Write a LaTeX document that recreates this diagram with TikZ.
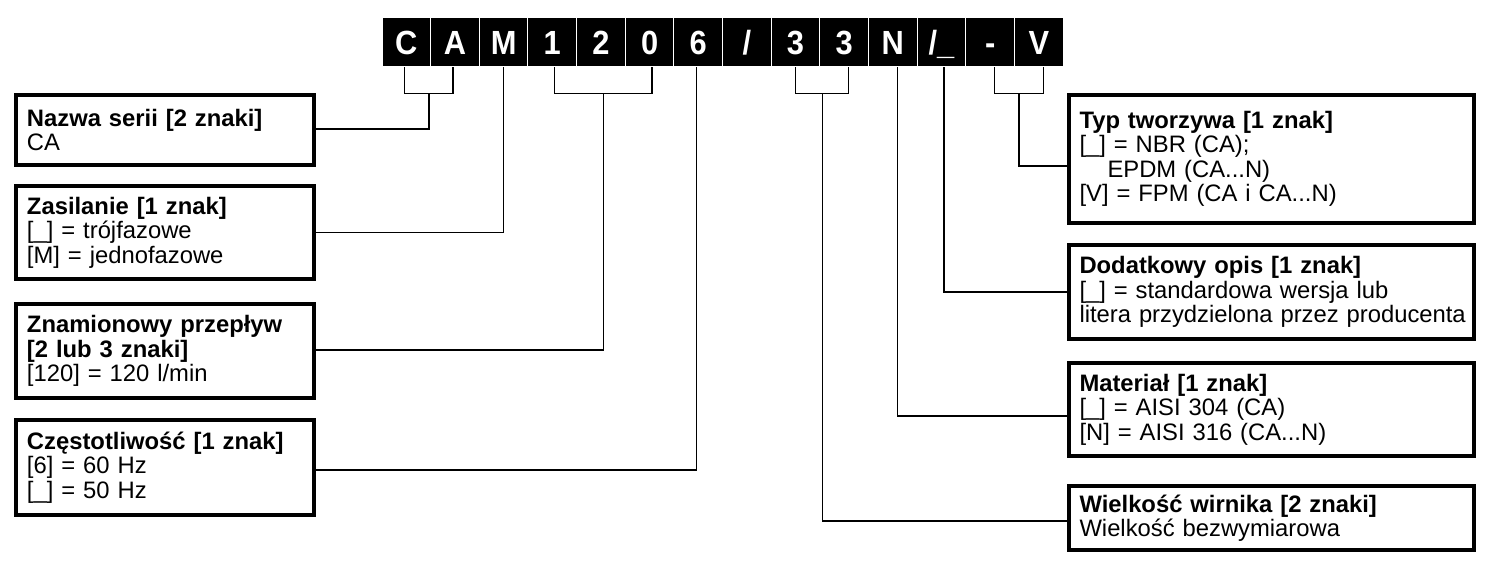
\documentclass[tikz,border=0pt]{standalone}
\usepackage{fontspec}
\setmainfont{Liberation Sans}
\newfontfamily\codefont[FakeStretch=0.92]{Liberation Sans}
\usetikzlibrary{calc,positioning}
\tikzset{
  cell/.style={fill=black, draw=white, line width=1pt, minimum width=48.65pt,
               minimum height=49pt, inner sep=0pt, text=white,
               text height=24pt, text depth=0pt,
               font=\codefont\fontsize{33.5}{33.5}\selectfont\bfseries},
  infobox/.style={draw=black, line width=4pt, align=left, inner xsep=11pt,
                  inner ysep=0pt, font=\fontsize{23.8}{24.5}\selectfont},
  leftbox/.style={infobox, text width=276pt},
  rightbox/.style={infobox, inner xsep=10.5pt, text width=384pt},
  lead/.style={draw=black, line width=1.2pt}
}

\begin{document}
\begin{tikzpicture}[x=1pt,y=-1pt]
\useasboundingbox (0,0) rectangle (1493,580);

% Type code strip.
\foreach \ch [count=\i] in {C,A,M,1,2,0,6,/,3,3,N,/\_,-,V}
  \node[cell] (c\i) at ({382+48.65*(\i-0.5)},42.5) {\ch};

% Tap points under the characters.
\coordinate (tC)  at ([xshift=-1.5pt]c1.south);
\coordinate (tA)  at ([xshift=-2pt]c2.south);
\coordinate (tM)  at (c3.south);
\coordinate (t1)  at ([xshift=2.5pt]c4.south);
\coordinate (t0)  at ([xshift=2.5pt]c6.south);
\coordinate (t6)  at ([xshift=-1.5pt]c7.south);
\coordinate (t3a) at (c9.south);
\coordinate (t3b) at ([xshift=4.5pt]c10.south);
\coordinate (tN)  at ([xshift=4.5pt]c11.south);
\coordinate (tU)  at ([xshift=2.5pt]c12.south);
\coordinate (tD)  at ([xshift=4.5pt]c13.south);
\coordinate (tV)  at ([xshift=4.5pt]c14.south);

% Left column of descriptions.
\node[leftbox, minimum height=70pt] (nazwa) at (165,130)
  {\textbf{Nazwa serii [2 znaki]}\\CA};
\node[leftbox, minimum height=93pt] (zasil) at (165,232.5)
  {\textbf{Zasilanie [1 znak]}\\{[\_]} = trójfazowe\\{[M]} = jednofazowe};
\node[leftbox, minimum height=94pt] (przeplyw) at (165,351)
  {\textbf{Znamionowy przepływ}\\\textbf{[2 lub 3 znaki]}\\{[120]} = 120 l/min};
\node[leftbox, minimum height=95pt] (czest) at (165,467.5)
  {\textbf{Częstotliwość [1 znak]}\\{[6]} = 60 Hz\\{[\_]} = 50 Hz};

% Right column of descriptions.
\node[rightbox, minimum height=128pt] (tworzywo) at (1271.5,159)
  {\textbf{Typ tworzywa [1 znak]}\\{[\_]} = NBR (CA);\\\hspace*{28pt}EPDM (CA...N)\\{[V]} = FPM (CA i CA...N)};
\node[rightbox, minimum height=94pt] (opis) at (1271.5,292)
  {\textbf{Dodatkowy opis [1 znak]}\\{[\_]} = standardowa wersja lub\\\mbox{litera przydzielona przez producenta}};
\node[rightbox, minimum height=93pt] (material) at (1271.5,409.5)
  {\textbf{Materiał [1 znak]}\\{[\_]} = AISI 304 (CA)\\{[N]} = AISI 316 (CA...N)};
\node[rightbox, minimum height=64pt] (wirnik) at (1271.5,518)
  {\textbf{Wielkość wirnika [2 znaki]}\\Wielkość bezwymiarowa};

% Leaders, left side.
\draw[lead] (tC) -- ++(0,26) -| (tA);
\draw[lead] ($(tC)!.5!(tA)+(0,26)$) |- ([yshift=1pt]nazwa.east);
\draw[lead] (tM) |- (zasil.east);
\draw[lead] (t1) -- ++(0,26) -| (t0);
\draw[lead] ($(t1)!.5!(t0)+(0,26)$) |- ([yshift=1pt]przeplyw.east);
\draw[lead] (t6) |- ([yshift=-2.5pt]czest.east);

% Leaders, right side.
\draw[lead] (t3a) -- ++(0,26) -| (t3b);
\draw[lead] ($(t3a)!.5!(t3b)+(0,26)$) |- ([yshift=-3pt]wirnik.west);
\draw[lead] (tN) |- ([yshift=-6.5pt]material.west);
\draw[lead] (tU) |- (opis.west);
\draw[lead] (tD) -- ++(0,26) -| (tV);
\draw[lead] ($(tD)!.5!(tV)+(0,26)$) |- ([yshift=-7pt]tworzywo.west);

\end{tikzpicture}
\end{document}
